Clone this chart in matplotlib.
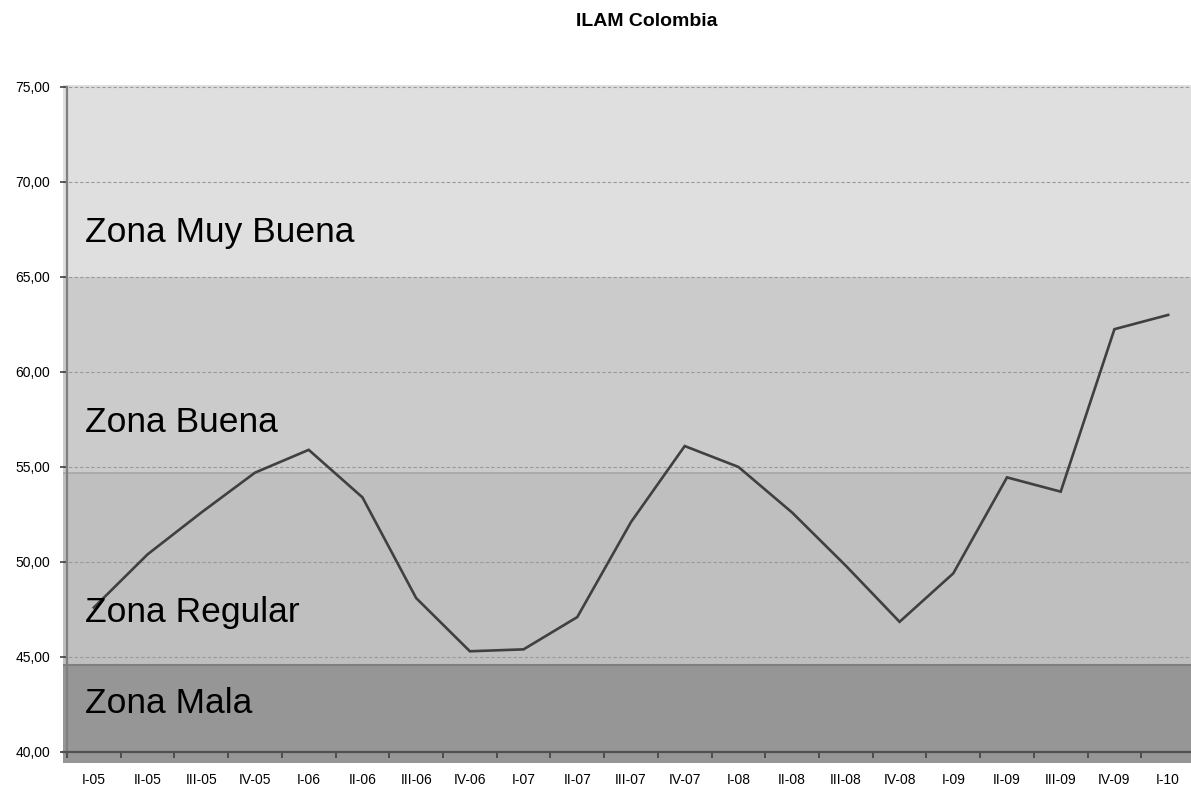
import matplotlib
matplotlib.use("Agg")
import matplotlib.pyplot as plt
import matplotlib.transforms as mtransforms
import numpy as np

plt.rcParams['font.family'] = ['Liberation Sans', 'DejaVu Sans']

title = "ILAM Colombia"
categories = ["I-05", "II-05", "III-05", "IV-05", "I-06", "II-06", "III-06", "IV-06",
              "I-07", "II-07", "III-07", "IV-07", "I-08", "II-08", "III-08", "IV-08",
              "I-09", "II-09", "III-09", "IV-09", "I-10"]
ilam_values = [47.6, 50.4, 52.6, 54.7, 55.9, 53.4, 48.1, 45.3, 45.4, 47.1, 52.1, 56.1,
               55.0, 52.6, 49.8, 46.85, 49.4, 54.45, 53.7, 62.25, 63.0]

zone_names = ["Zona Mala", "Zona Regular", "Zona Buena", "Zona Muy Buena"]
zone_bounds = [39.42, 44.57, 54.66, 65.0, 75.1]
zone_colors = ["#969696", "#bfbfbf", "#cbcbcb", "#dfdfdf"]
zone_label_y = [42.06, 46.85, 56.82, 66.83]

y_ticks = [40, 45, 50, 55, 60, 65, 70, 75]

W, H = 1191, 788
fig = plt.figure(figsize=(W / 100, H / 100), dpi=100)
ax_left, ax_right, ax_top, ax_bottom = 63, 1195, 85, 763
ax = fig.add_axes([ax_left / W, 1 - ax_bottom / H, (ax_right - ax_left) / W, (ax_bottom - ax_top) / H])

n = len(categories)
x = np.arange(n)
ax.set_xlim(-0.5745, n - 0.5)
ax.set_ylim(zone_bounds[0], zone_bounds[-1])

# bands
for i in range(len(zone_names)):
    ax.axhspan(zone_bounds[i], zone_bounds[i + 1], color=zone_colors[i], zorder=0, lw=0)
ax.axhline(zone_bounds[1], color="#7f7f7f", lw=1.5, zorder=0.5)
ax.axhline(zone_bounds[2], color="#a6a6a6", lw=1.2, zorder=0.5)

# grid
ax.set_yticks(y_ticks)
ax.set_yticklabels([f"{v:.2f}".replace('.', ',') for v in y_ticks], fontsize=12)
ax.yaxis.grid(True, color="#999999", linestyle=(0, (3, 2)), lw=0.8)
ax.set_axisbelow('line')

# line
ax.plot(x, ilam_values, color="#404040", lw=1.9, zorder=3, solid_joinstyle='miter')

# zone labels
trans = mtransforms.blended_transform_factory(ax.transAxes, ax.transData)
for name, yv in zip(zone_names, zone_label_y):
    ax.text(0.0194, yv, name, transform=trans, fontsize=25.5, va='baseline', ha='left',
            color='black', zorder=5)

# x axis
ax.set_xticks(x)
ax.set_xticklabels(categories, fontsize=11.5)
ax.set_xticks(np.arange(n + 1) - 0.5, minor=True)
ax.tick_params(axis='x', which='major', length=0, pad=15)
ax.tick_params(axis='x', which='minor', length=4, width=1.2, color="#404040", direction='out')
ax.tick_params(axis='y', which='major', length=5, width=1.2, color="#404040", pad=7)

for s in ['top', 'right']:
    ax.spines[s].set_visible(False)
ax.spines['left'].set_position(('data', -0.5))
ax.spines['left'].set_color("#808080")
ax.spines['left'].set_linewidth(1.6)
ax.spines['left'].set_bounds(40, 75)
ax.spines['bottom'].set_position(('data', 40))
ax.spines['bottom'].set_color("#505050")
ax.spines['bottom'].set_linewidth(1.6)

fig.text(647 / W, 1 - 22 / H, title, fontsize=14, fontweight='bold', ha='center', va='center')

fig.savefig("out.png", dpi=100)
